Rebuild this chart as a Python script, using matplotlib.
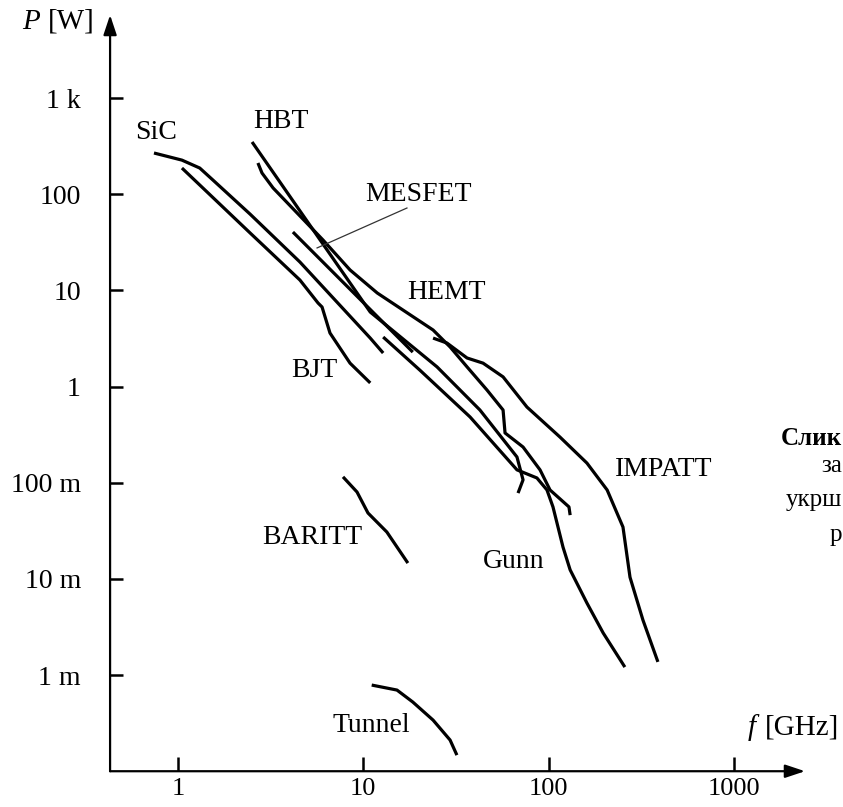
import numpy as np
import matplotlib
matplotlib.use('Agg')
import matplotlib.pyplot as plt

plt.rcParams['font.family'] = ['Liberation Serif', 'DejaVu Serif']

# frequency f [GHz] and output power P [W]
sic_f = [0.742, 1.05, 1.31, 1.545, 2.45, 4.55, 10.9, 12.8]
sic_p = [268, 226, 187, 140, 62, 19.7, 3.19, 2.23]

bjt_f = [1.05, 2.45, 4.55, 5.70, 5.99, 6.61, 8.48, 10.9]
bjt_p = [187, 39.5, 12.8, 7.38, 6.71, 3.60, 1.75, 1.09]

hbt_f = [2.51, 6.06, 10.9, 25.0, 42.6, 67.5, 72.8, 68.4]
hbt_p = [349, 30.3, 5.95, 1.60, 0.570, 0.185, 0.107, 0.078]

hemt_f = [2.70, 2.84, 3.26, 6.06, 8.48, 11.9, 23.8, 29.4, 36.3, 46.5, 56.8,
          58.2, 72.8, 89.9, 101.8, 128.8, 130.7]
hemt_p = [211, 166, 116, 33.4, 16.3, 9.38, 3.87, 2.58, 1.60, 0.920, 0.570,
          0.329, 0.235, 0.136, 0.084, 0.056, 0.046]

mesfet_f = [4.17, 18.5]
mesfet_p = [40.4, 2.28]
mesfet_lead_f = [5.63, 17.2]
mesfet_lead_p = [27.6, 71.8]

gunn_f = [12.8, 20.2, 37.7, 67.5, 86.5, 98.0, 105.6, 119.6, 130.7, 161, 197, 258]
gunn_p = [3.27, 1.48, 0.482, 0.136, 0.112, 0.084, 0.056, 0.0214, 0.0124,
          0.00561, 0.00274, 0.00121]

impatt_f = [23.8, 28.3, 36.3, 44.3, 56.8, 76.4, 115, 161, 207, 252, 275, 323, 389]
impatt_p = [3.19, 2.83, 1.98, 1.75, 1.26, 0.612, 0.299, 0.160, 0.084, 0.0346,
            0.0104, 0.00373, 0.00137]

baritt_f = [7.77, 9.25, 10.6, 13.4, 17.4]
baritt_p = [0.115, 0.080, 0.0484, 0.0307, 0.0146]

tunnel_f = [11.1, 15.2, 18.5, 23.8, 29.4, 32.0]
tunnel_p = [0.000787, 0.000698, 0.000524, 0.000340, 0.000211, 0.000147]

xticks = [1, 10, 100, 1000]
xticklabels = ['1', '10', '100', '1000']
yticks = [1e3, 1e2, 1e1, 1, 1e-1, 1e-2, 1e-3]
yticklabels = ['1 k', '100', '10', '1', '100 m', '10 m', '1 m']

# device name labels: (text, f, P) at left edge of the text
labels = [('SiC', 0.586, 443), ('HBT', 2.54, 563), ('MESFET', 10.2, 100),
          ('HEMT', 17.2, 9.6), ('BJT', 4.07, 1.48), ('IMPATT', 228, 0.136),
          ('Gunn', 44.3, 0.0153), ('BARITT', 2.84, 0.0272),
          ('Tunnel', 6.78, 0.000302)]

fig = plt.figure(figsize=(8.43, 8.07), dpi=100)
ax = fig.add_axes([0, 0, 1, 1])
ax.set_xscale('log')
ax.set_yscale('log')
ax.set_xlim(10 ** -0.9606, 10 ** 3.5888)
ax.set_ylim(10 ** -4.372, 10 ** 4.019)
ax.patch.set_alpha(0)

x0, y0 = 0.43, 1e-4
for s in ['top', 'right']:
    ax.spines[s].set_visible(False)
ax.spines['left'].set_position(('data', x0))
ax.spines['bottom'].set_position(('data', y0))
ax.spines['left'].set_color('none')
ax.spines['bottom'].set_color('none')

arrow = dict(arrowstyle='-|>,head_length=0.6,head_width=0.2', lw=1.6, color='k',
             mutation_scale=20, shrinkA=0, shrinkB=0)
ax.annotate('', xy=(x0, 7300), xytext=(x0, y0), arrowprops=arrow, annotation_clip=False)
ax.annotate('', xy=(2420, y0), xytext=(x0, y0), arrowprops=arrow, annotation_clip=False)

ax.set_xticks(xticks)
ax.set_xticklabels(xticklabels)
ax.set_yticks(yticks)
ax.set_yticklabels(yticklabels)
ax.minorticks_off()
ax.tick_params(axis='y', direction='in', length=9, width=1.8, pad=21, labelsize=20)
ax.tick_params(axis='x', direction='in', length=10, width=1.8, pad=5, labelsize=19)

lw = 2.3
for f, p in [(sic_f, sic_p), (bjt_f, bjt_p), (hbt_f, hbt_p), (hemt_f, hemt_p),
             (mesfet_f, mesfet_p), (gunn_f, gunn_p), (impatt_f, impatt_p),
             (baritt_f, baritt_p), (tunnel_f, tunnel_p)]:
    ax.plot(f, p, color='k', lw=lw, solid_joinstyle='round', solid_capstyle='butt')
ax.plot(mesfet_lead_f, mesfet_lead_p, color='#333333', lw=0.9)

for name, f, p in labels:
    ax.text(f, p, name, fontsize=20, ha='left', va='center')

ax.text(0.144, 6170, 'P', fontsize=21, style='italic', ha='left', va='center')
ax.text(0.199, 6170, '[W]', fontsize=21, ha='left', va='center')
ax.text(1191, 0.000288, 'f', fontsize=21, style='italic', ha='left', va='center')
ax.text(1472, 0.000288, '[GHz]', fontsize=21, ha='left', va='center')

# visible fragments of the caption at the right edge
fig.text(0.999, 0.457, 'Слик', fontsize=18, weight='bold', ha='right', va='center')
fig.text(0.999, 0.4226, 'за', fontsize=18, ha='right', va='center')
fig.text(0.999, 0.380, 'укрш', fontsize=18, ha='right', va='center')
fig.text(0.999, 0.337, 'р', fontsize=18, ha='right', va='center')

fig.savefig('out.png', dpi=100)
